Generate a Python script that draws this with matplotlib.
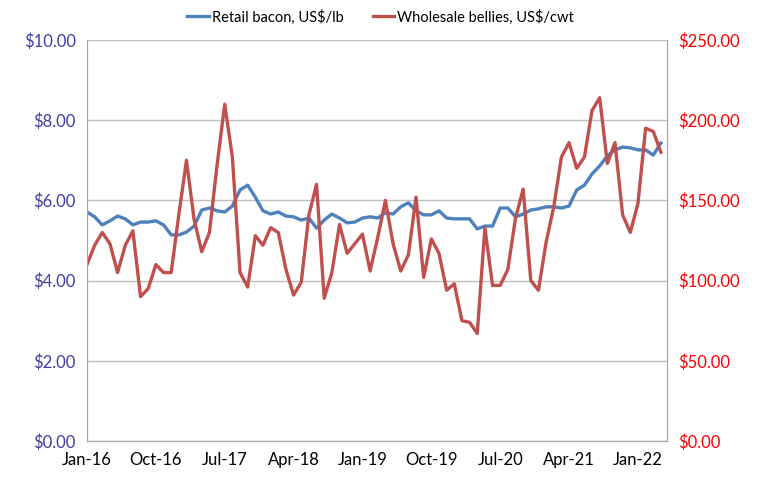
import numpy as np
import pandas as pd
import matplotlib
matplotlib.use("Agg")
import matplotlib.pyplot as plt

plt.rcParams['font.family'] = ['Lato', 'DejaVu Sans']

# 월별 데이터 (Jan-16 ~ Apr-22)
months = pd.date_range("2016-01-01", periods=76, freq="MS")

retail_bacon = [5.71, 5.59, 5.39, 5.49, 5.61, 5.54, 5.39, 5.46, 5.46, 5.49,
                5.39, 5.14, 5.14, 5.21, 5.36, 5.76, 5.81, 5.74, 5.71, 5.86,
                6.26, 6.38, 6.08, 5.74, 5.66, 5.71, 5.61, 5.59, 5.51, 5.56,
                5.31, 5.51, 5.66, 5.56, 5.44, 5.46, 5.56, 5.59, 5.56, 5.69,
                5.66, 5.84, 5.94, 5.74, 5.64, 5.64, 5.74, 5.56, 5.54, 5.54,
                5.54, 5.29, 5.36, 5.36, 5.81, 5.81, 5.59, 5.66, 5.76, 5.79,
                5.84, 5.84, 5.81, 5.86, 6.26, 6.38, 6.66, 6.86, 7.11, 7.26,
                7.33, 7.31, 7.26, 7.26, 7.13, 7.43]

wholesale_bellies = [110, 122, 130, 123, 105, 122, 131, 90, 95, 110,
                     105, 105, 141, 175, 138, 118, 130, 172, 210, 177,
                     105, 96, 128, 122, 133, 130, 107, 91, 99, 141,
                     160, 89, 105, 135, 117, 123, 129, 106, 127, 150,
                     123, 106, 116, 152, 102, 126, 117, 94, 98, 75,
                     74, 67, 133, 97, 97, 107, 139, 157, 100, 94,
                     124, 146, 177, 186, 170, 177, 206, 214, 173, 186,
                     141, 130, 148, 195, 193, 180]

tick_idx = list(range(0, 76, 9))
tick_labels = [months[i].strftime("%b-%y") for i in tick_idx]

x = np.arange(len(months))

fig = plt.figure(figsize=(7.61, 4.78), dpi=100)
ax1 = fig.add_axes([0.1143, 0.0774, 0.7622, 0.8389])
ax2 = ax1.twinx()

# 소매 베이컨 (왼쪽 축)
l1, = ax1.plot(x, retail_bacon, color='#4F81BD', linewidth=2.4,
               label="Retail bacon, US$/lb")
# 도매 삼겹 (오른쪽 축)
l2, = ax2.plot(x, wholesale_bellies, color='#C0504D', linewidth=2.4,
               label="Wholesale bellies, US$/cwt")

ax1.set_xlim(0, 75.8)
ax1.set_ylim(0, 10)
ax2.set_ylim(0, 250)
ax1.set_yticks(np.arange(0, 10.01, 2))
ax2.set_yticks(np.arange(0, 250.01, 50))
ax1.set_yticklabels([f"${v:.2f}" for v in np.arange(0, 10.01, 2)])
ax2.set_yticklabels([f"${v:.2f}" for v in np.arange(0, 250.01, 50)])
ax1.set_xticks(tick_idx)
ax1.set_xticklabels(tick_labels)

ax1.yaxis.grid(True, color='#BFBFBF', linewidth=1)
ax1.set_axisbelow(True)

ax1.tick_params(axis='y', labelcolor='#3F3FA8', labelsize=12, length=0, pad=8)
ax2.tick_params(axis='y', labelcolor='#FF0000', labelsize=12, length=0, pad=8)
ax1.tick_params(axis='x', labelsize=12, length=0, pad=8)

for ax in (ax1, ax2):
    ax.spines['top'].set_visible(False)
    for s in ('left', 'right', 'bottom'):
        ax.spines[s].set_color('#A6A6A6')

fig.legend(handles=[l1, l2], loc='upper center', bbox_to_anchor=(0.5, 1.008),
           ncol=2, frameon=False, fontsize=10.5, handlelength=1.5,
           handletextpad=0.2, columnspacing=2.0)

fig.savefig("out.png", dpi=100)
